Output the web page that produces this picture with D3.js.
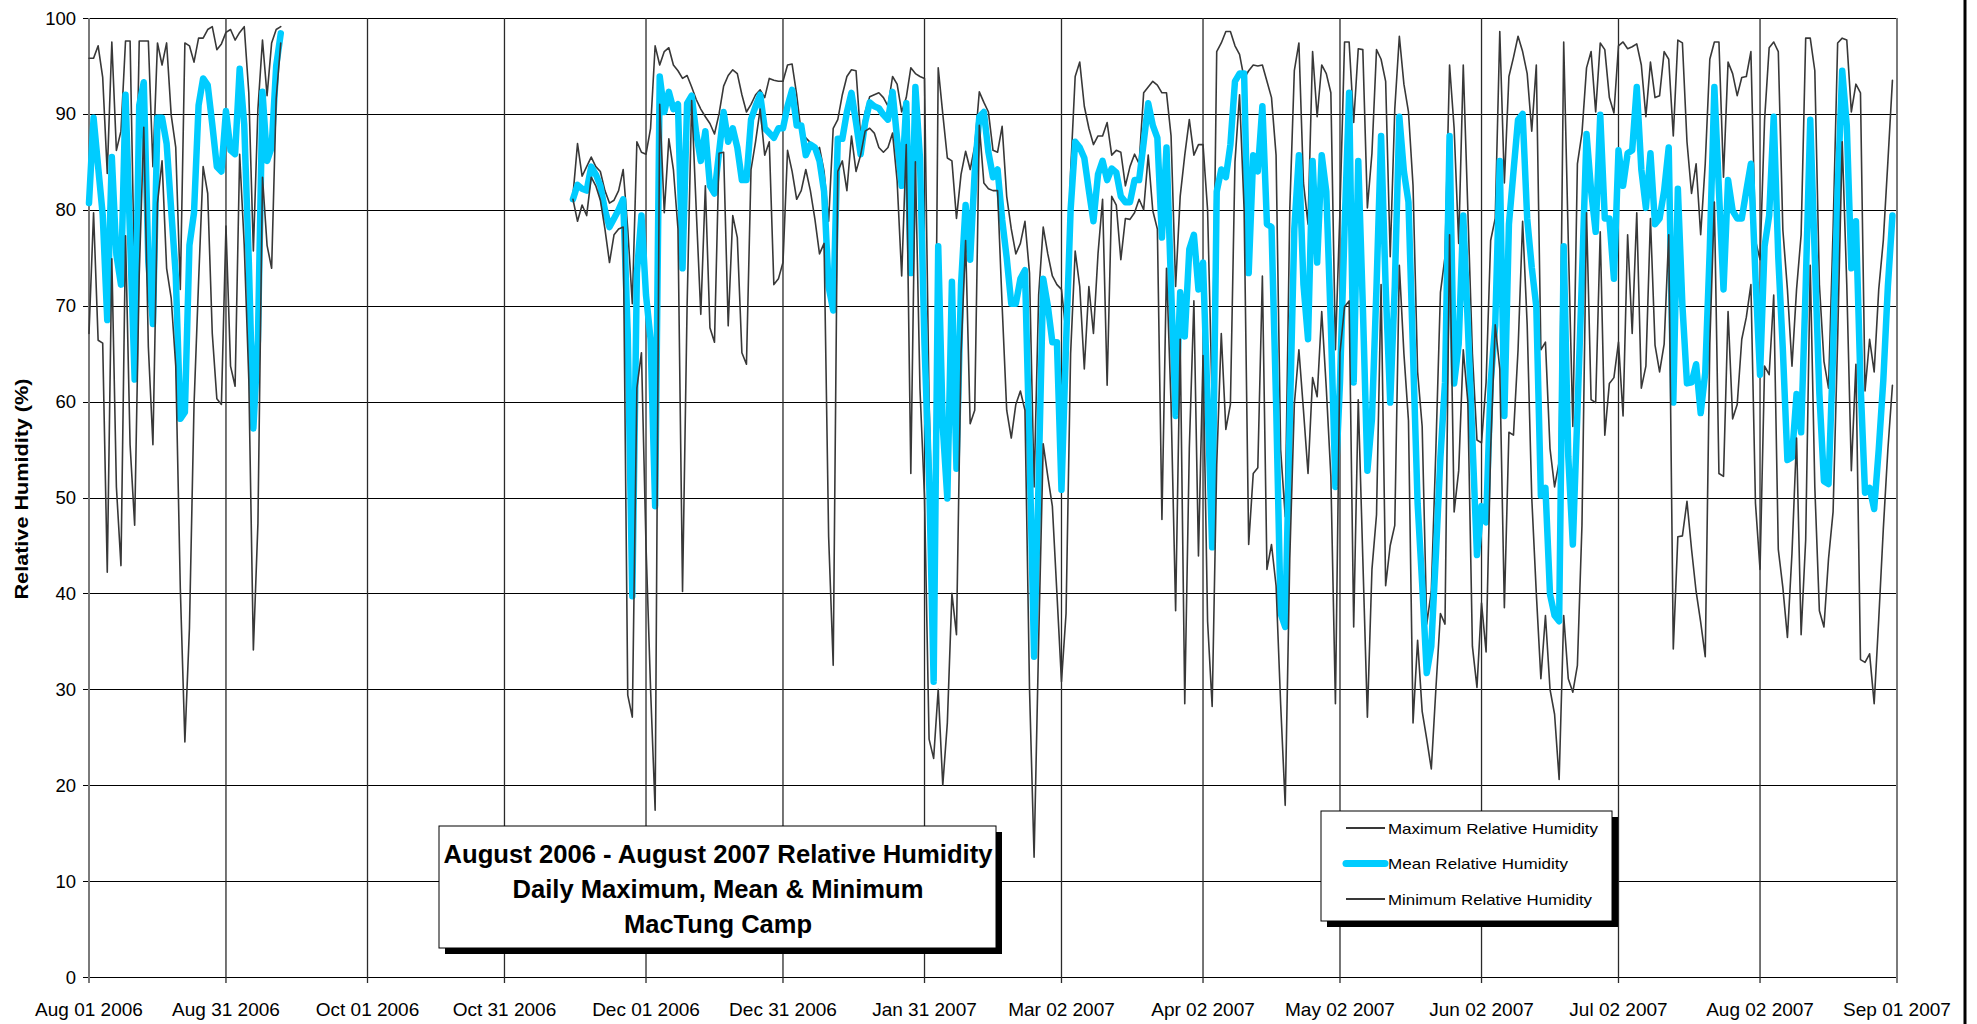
<!DOCTYPE html>
<html>
<head>
<meta charset="utf-8">
<script src="https://cdn.jsdelivr.net/npm/d3@7"></script>
<style>
  body { margin: 0; background: #fff; }
  svg { display: block; font-family: "Liberation Sans", Arial, sans-serif; }
</style>
</head>
<body>
<svg id="chart" width="1977" height="1024"></svg>
<script>
// daily values, two recording periods
const seg1Start = "2006-08-01";
const seg2Start = "2006-11-15";

const max1 = [95.8, 95.8, 97.1, 93.8, 83.8, 97.5, 86.2, 88.2, 97.6, 97.6, 72.0, 97.6, 97.6, 97.6, 84.5, 97.4, 95.1, 97.4, 89.9, 86.5,
  71.7, 97.4, 97.1, 95.4, 97.9, 97.9, 98.8, 99.1, 96.7, 97.3, 98.5, 98.8, 97.7, 98.5, 99.1, 92.2, 75.7, 90.5, 97.7, 91.9,
  97.4, 98.8, 99.1];
const mean1 = [80.7, 89.6, 84.5, 79.5, 68.5, 85.5, 75.3, 72.2, 92.0, 77.0, 62.3, 90.9, 93.3, 74.6, 68.1, 89.6, 89.6, 86.9, 80.0, 73.2,
  58.2, 58.9, 76.3, 79.7, 90.9, 93.7, 93.0, 88.9, 84.5, 84.0, 90.3, 86.2, 85.8, 94.7, 88.9, 74.6, 57.2, 66.4, 92.3, 85.1,
  86.5, 95.0, 98.4];
const min1 = [67.1, 79.7, 66.4, 66.1, 42.2, 74.9, 51.1, 42.9, 77.3, 55.5, 47.1, 73.2, 88.6, 65.7, 55.5, 80.7, 85.1, 73.9, 70.8, 63.7,
  40.5, 24.5, 36.4, 59.6, 72.5, 84.5, 81.7, 67.1, 60.3, 59.7, 78.3, 63.7, 61.6, 85.8, 76.3, 62.3, 34.1, 47.3, 83.4, 76.3,
  73.9, 91.6, 97.4];

const max2 = [
  81.5, 86.9, 83.5, 84.5, 85.5, 84.5, 84.0, 82.0, 80.7, 81.0,
  82.0, 84.2, 78.0, 70.2, 87.1, 86.0, 85.8, 88.5, 97.1, 95.1,
  96.5, 96.9, 95.1, 94.5, 93.7, 94.0, 92.8, 91.5, 90.5, 89.7,
  89.0, 87.9, 90.0, 92.9, 94.0, 94.6, 94.2, 92.0, 90.2, 91.0,
  92.0, 92.5, 91.7, 93.7, 93.5, 93.4, 93.4, 95.1, 95.2, 92.0,
  88.0, 87.5, 87.0, 86.0, 86.5, 84.0, 78.8, 88.5, 89.4, 92.0,
  93.9, 94.6, 94.5, 87.7, 90.2, 91.8, 92.0, 92.2, 91.7, 90.8,
  93.9, 93.1, 90.2, 91.7, 94.8, 94.2, 93.9, 93.7, 60.0, 40.0,
  94.8, 90.0, 85.4, 85.1, 79.1, 83.7, 86.1, 84.2, 86.6, 92.3,
  91.2, 90.2, 86.2, 86.0, 88.7, 81.4, 78.0, 75.4, 76.5, 78.8,
  73.4, 51.1, 71.1, 78.2, 75.4, 73.1, 72.2, 71.7, 67.1, 84.0,
  93.9, 95.4, 90.8, 88.5, 86.8, 87.7, 87.7, 89.1, 85.7, 86.2,
  86.0, 82.5, 84.5, 85.8, 84.8, 92.2, 92.8, 93.4, 93.0, 92.2,
  92.2, 87.7, 72.0, 81.4, 85.7, 89.4, 85.7, 86.8, 86.8, 80.0,
  60.0, 96.5, 97.4, 98.6, 98.6, 97.1, 96.2, 93.7, 94.5, 95.1,
  95.0, 95.1, 93.4, 91.7, 85.7, 55.0, 48.0, 80.0, 94.5, 97.4,
  82.8, 78.5, 96.5, 89.7, 95.1, 94.2, 92.2, 65.4, 80.0, 97.5,
  97.5, 89.1, 96.8, 96.7, 80.2, 85.9, 96.7, 95.7, 93.4, 75.1,
  90.5, 98.1, 93.1, 90.2, 82.5, 63.1, 57.4, 36.8, 40.2, 55.0,
  71.4, 75.1, 95.1, 88.5, 76.5, 95.1, 80.0, 65.0, 56.0, 55.7,
  62.0, 76.8, 79.1, 98.6, 82.8, 93.9, 95.9, 98.1, 96.5, 94.2,
  88.2, 95.1, 65.4, 66.2, 55.1, 51.1, 53.7, 97.5, 76.8, 57.4,
  84.8, 88.0, 94.8, 96.5, 90.2, 97.4, 96.7, 91.7, 90.1, 97.1,
  97.5, 96.8, 97.0, 97.3, 95.1, 89.7, 95.4, 91.7, 91.9, 96.5,
  95.7, 87.7, 97.7, 97.4, 87.1, 81.7, 84.8, 77.4, 84.8, 95.7,
  97.5, 97.5, 83.4, 95.4, 94.2, 91.9, 93.8, 93.9, 96.5, 76.8,
  74.8, 89.4, 96.9, 97.5, 96.5, 77.9, 71.7, 63.7, 71.7, 77.4,
  97.9, 97.9, 94.5, 72.2, 64.2, 61.4, 77.9, 97.4, 97.9, 97.7,
  90.2, 93.1, 92.2, 61.1, 66.5, 63.1, 71.7, 76.8, 85.0, 93.5];
const mean2 = [
  81.1, 82.6, 82.2, 82.0, 84.5, 83.7, 82.5, 80.0, 78.2, 79.1,
  80.0, 81.1, 67.0, 39.7, 73.4, 79.4, 71.1, 66.5, 49.1, 93.9,
  90.2, 92.3, 90.5, 91.0, 73.9, 91.1, 91.9, 88.0, 85.1, 88.2,
  82.5, 81.7, 86.0, 90.2, 87.1, 88.5, 86.5, 83.1, 83.1, 89.4,
  90.8, 92.0, 88.5, 88.0, 87.5, 88.5, 88.5, 90.8, 92.5, 88.8,
  88.8, 85.7, 86.8, 86.5, 85.1, 81.9, 72.0, 69.5, 87.4, 87.4,
  90.2, 92.2, 89.1, 85.8, 89.1, 91.2, 90.8, 90.6, 89.9, 89.4,
  92.3, 87.4, 82.5, 91.1, 73.4, 92.8, 85.4, 65.9, 52.2, 30.8,
  76.2, 57.4, 49.9, 72.5, 53.0, 72.2, 80.5, 74.8, 84.0, 89.7,
  90.2, 86.0, 83.4, 84.2, 79.0, 75.0, 70.2, 70.2, 72.8, 73.7,
  55.0, 33.4, 52.0, 72.8, 70.0, 66.2, 66.2, 50.8, 66.0, 80.0,
  87.1, 86.5, 85.4, 82.0, 78.8, 83.7, 85.1, 83.1, 84.3, 83.9,
  81.4, 80.8, 80.8, 83.1, 83.1, 87.0, 91.1, 88.8, 87.5, 77.1,
  86.5, 72.0, 58.5, 71.4, 66.8, 75.9, 77.4, 71.7, 74.5, 60.0,
  44.8, 81.9, 84.2, 83.4, 86.8, 93.4, 94.2, 94.2, 73.4, 85.7,
  84.0, 90.8, 78.5, 78.2, 60.0, 37.9, 36.5, 58.0, 78.0, 85.7,
  72.2, 66.5, 85.1, 74.5, 85.7, 81.9, 68.0, 51.1, 62.0, 78.0,
  92.2, 62.0, 85.1, 70.0, 52.8, 58.2, 72.0, 87.7, 72.0, 59.9,
  72.0, 89.7, 84.0, 80.8, 65.0, 49.4, 41.0, 31.7, 34.5, 44.0,
  54.2, 62.0, 87.7, 61.9, 66.0, 79.4, 68.0, 56.0, 44.0, 49.1,
  47.4, 62.0, 68.0, 85.1, 58.5, 78.5, 84.0, 89.4, 90.0, 79.1,
  74.0, 69.9, 50.2, 51.0, 39.9, 37.7, 37.1, 76.2, 54.3, 45.1,
  58.8, 73.0, 87.9, 82.0, 77.7, 89.9, 79.1, 79.1, 72.8, 86.2,
  82.5, 85.9, 86.2, 92.8, 84.2, 80.2, 85.9, 78.5, 79.1, 82.0,
  86.5, 59.9, 82.2, 70.0, 61.9, 62.0, 63.9, 58.8, 63.0, 76.0,
  92.8, 82.0, 71.7, 83.1, 79.9, 79.1, 79.1, 82.0, 84.8, 73.0,
  62.8, 76.2, 79.4, 89.7, 75.0, 65.4, 53.9, 54.2, 60.8, 56.8,
  72.0, 89.4, 75.0, 60.8, 51.7, 51.4, 65.0, 82.0, 94.5, 88.8,
  73.9, 78.8, 62.0, 50.5, 51.0, 48.8, 55.0, 62.2, 72.0, 79.4];
const min2 = [
  81.1, 78.8, 80.5, 79.4, 83.4, 82.5, 81.0, 78.0, 74.5, 77.4,
  78.0, 78.2, 29.4, 27.1, 61.4, 65.1, 45.0, 30.0, 17.4, 91.0,
  79.7, 87.4, 84.2, 78.0, 40.2, 70.0, 91.4, 80.0, 69.1, 82.5,
  67.7, 66.2, 85.9, 86.0, 67.9, 79.4, 77.1, 65.1, 63.9, 84.2,
  87.1, 90.5, 85.7, 87.1, 72.2, 72.8, 74.5, 86.2, 84.0, 81.1,
  82.0, 84.2, 82.0, 79.0, 75.4, 76.5, 45.9, 32.5, 84.0, 85.1,
  82.0, 87.7, 84.0, 85.7, 88.2, 88.5, 88.0, 86.5, 86.0, 86.5,
  88.0, 83.0, 73.1, 86.8, 52.5, 85.0, 61.4, 50.0, 24.8, 22.8,
  30.0, 20.0, 26.5, 40.0, 35.7, 65.0, 76.8, 57.7, 59.1, 88.8,
  82.8, 82.2, 82.0, 82.0, 70.0, 59.1, 56.2, 59.7, 61.1, 59.1,
  30.0, 12.5, 35.0, 55.6, 52.2, 49.1, 40.0, 30.8, 37.9, 65.0,
  75.7, 72.0, 63.4, 72.0, 67.1, 75.4, 81.1, 61.7, 81.4, 80.5,
  74.8, 79.1, 79.0, 79.7, 81.1, 80.0, 85.7, 79.9, 78.0, 47.7,
  73.9, 59.7, 38.2, 66.5, 28.5, 55.1, 70.5, 43.9, 64.8, 37.1,
  28.2, 53.4, 67.1, 57.1, 59.7, 85.0, 92.0, 80.0, 45.1, 52.5,
  53.1, 73.1, 42.5, 45.1, 40.8, 28.5, 17.9, 43.6, 59.7, 65.4,
  59.1, 52.5, 62.5, 60.5, 69.4, 61.4, 52.2, 28.5, 65.1, 69.9,
  70.5, 36.5, 60.2, 43.6, 27.1, 42.5, 48.2, 72.2, 40.8, 45.0,
  47.1, 74.2, 65.0, 58.0, 26.5, 35.1, 27.7, 24.8, 21.7, 30.0,
  37.9, 36.8, 77.4, 48.5, 52.8, 65.4, 60.0, 34.5, 30.2, 39.0,
  33.9, 55.0, 68.0, 63.4, 38.5, 56.8, 56.5, 65.4, 78.8, 68.0,
  50.0, 40.0, 31.1, 37.7, 30.0, 27.4, 20.6, 37.7, 31.1, 29.7,
  32.5, 47.1, 79.7, 60.2, 59.9, 77.7, 56.5, 61.9, 62.5, 66.2,
  58.5, 77.4, 67.1, 79.7, 61.4, 63.7, 79.1, 65.9, 63.1, 66.0,
  77.4, 34.2, 45.9, 46.0, 49.6, 44.6, 40.2, 37.0, 33.4, 66.0,
  80.8, 52.5, 52.2, 69.4, 58.2, 59.7, 66.5, 68.8, 72.2, 49.4,
  42.5, 63.7, 62.8, 71.1, 44.6, 40.6, 35.4, 44.2, 56.2, 35.7,
  45.6, 74.2, 51.1, 38.2, 36.5, 43.6, 48.5, 66.5, 87.1, 72.2,
  52.8, 63.9, 33.1, 32.8, 33.7, 28.5, 37.3, 46.7, 55.0, 61.7];

const tickDates = ["2006-08-01", "2006-08-31", "2006-10-01", "2006-10-31", "2006-12-01", "2006-12-31", "2007-01-31",
  "2007-03-02", "2007-04-02", "2007-05-02", "2007-06-02", "2007-07-02", "2007-08-02", "2007-09-01"];
const yTicks = [0, 10, 20, 30, 40, 50, 60, 70, 80, 90, 100];
const seriesNames = ["Maximum Relative Humidity", "Mean Relative Humidity", "Minimum Relative Humidity"];
const titleLines = ["August 2006 - August 2007 Relative Humidity", "Daily Maximum, Mean & Minimum", "MacTung Camp"];

const parse = d3.utcParse("%Y-%m-%d");
const fmt = d3.utcFormat("%b %d %Y");

const plot = { left: 89, right: 1897, top: 18, bottom: 977 };
const darkLine = "#383838";
const meanColor = "#00ccff";

const x = d3.scaleUtc()
  .domain([parse(tickDates[0]), parse(tickDates[tickDates.length - 1])])
  .range([plot.left, plot.right]);
const y = d3.scaleLinear()
  .domain([0, 100])
  .range([plot.bottom, plot.top]);

const toPoints = (start, arr) => arr.map((v, i) => ({ date: d3.utcDay.offset(parse(start), i), v: v }));

const svg = d3.select("#chart");

// grid
svg.append("g")
  .selectAll("line")
  .data(yTicks)
  .join("line")
    .attr("x1", plot.left - 6)
    .attr("x2", plot.right)
    .attr("y1", d => Math.round(y(d)) + 0.5)
    .attr("y2", d => Math.round(y(d)) + 0.5)
    .attr("stroke", "#000")
    .attr("stroke-width", 1.2);

svg.append("g")
  .selectAll("line")
  .data(tickDates.map(parse))
  .join("line")
    .attr("x1", d => x(d))
    .attr("x2", d => x(d))
    .attr("y1", plot.top)
    .attr("y2", plot.bottom + 6)
    .attr("stroke", (d, i) => (i === 0 || i === tickDates.length - 1) ? "#7a7a7a" : "#2a2a2a")
    .attr("stroke-width", (d, i) => (i === 0 || i === tickDates.length - 1) ? 2 : 1.3);

// axis labels
svg.append("g")
  .selectAll("text")
  .data(yTicks)
  .join("text")
    .attr("x", 76)
    .attr("y", d => y(d) + 6.5)
    .attr("text-anchor", "end")
    .attr("font-size", 18.5)
    .attr("fill", "#000")
    .text(d => d);

svg.append("g")
  .selectAll("text")
  .data(tickDates.map(parse))
  .join("text")
    .attr("x", d => x(d))
    .attr("y", 1016)
    .attr("text-anchor", "middle")
    .attr("font-size", 19)
    .attr("fill", "#000")
    .text(d => fmt(d));

svg.append("text")
  .attr("transform", "translate(28," + 489 + ") rotate(-90)")
  .attr("text-anchor", "middle")
  .attr("font-size", 18)
  .attr("font-weight", "bold")
  .attr("textLength", 221)
  .attr("lengthAdjust", "spacingAndGlyphs")
  .text("Relative Humidity (%)");

// chart area border on the right
svg.append("line")
  .attr("x1", 1965).attr("x2", 1965)
  .attr("y1", 0).attr("y2", 1024)
  .attr("stroke", "#000")
  .attr("stroke-width", 3);

// series lines: Max, Mean, Min (Excel draw order)
const line = d3.line()
  .x(d => x(d.date))
  .y(d => y(d.v));

const series = [
  { name: seriesNames[0], segs: [toPoints(seg1Start, max1), toPoints(seg2Start, max2)], color: darkLine, width: 1.6 },
  { name: seriesNames[1], segs: [toPoints(seg1Start, mean1), toPoints(seg2Start, mean2)], color: meanColor, width: 6.5 },
  { name: seriesNames[2], segs: [toPoints(seg1Start, min1), toPoints(seg2Start, min2)], color: darkLine, width: 1.6 }
];

series.forEach(s => {
  svg.append("g")
    .selectAll("path")
    .data(s.segs)
    .join("path")
      .attr("d", line)
      .attr("fill", "none")
      .attr("stroke", s.color)
      .attr("stroke-width", s.width)
      .attr("stroke-linejoin", "round")
      .attr("stroke-linecap", "round");
});

// title box
const tb = { x: 439, y: 826, w: 557, h: 122 };
svg.append("rect")
  .attr("x", tb.x + 6).attr("y", tb.y + 6)
  .attr("width", tb.w).attr("height", tb.h)
  .attr("fill", "#000");
svg.append("rect")
  .attr("x", tb.x).attr("y", tb.y)
  .attr("width", tb.w).attr("height", tb.h)
  .attr("fill", "#fff")
  .attr("stroke", "#000")
  .attr("stroke-width", 1);
const titleWidths = [549, 411, 188];
svg.append("g")
  .selectAll("text")
  .data(titleLines)
  .join("text")
    .attr("x", 718)
    .attr("y", (d, i) => 863 + i * 35)
    .attr("text-anchor", "middle")
    .attr("font-size", 25)
    .attr("font-weight", "bold")
    .attr("textLength", (d, i) => titleWidths[i])
    .attr("lengthAdjust", "spacingAndGlyphs")
    .text(d => d);

// legend
const lg = { x: 1321, y: 811, w: 291, h: 110 };
svg.append("rect")
  .attr("x", lg.x + 6).attr("y", lg.y + 6)
  .attr("width", lg.w).attr("height", lg.h)
  .attr("fill", "#000");
svg.append("rect")
  .attr("x", lg.x).attr("y", lg.y)
  .attr("width", lg.w).attr("height", lg.h)
  .attr("fill", "#fff")
  .attr("stroke", "#000")
  .attr("stroke-width", 1);
const legendWidths = [210, 180, 204];
const rows = svg.append("g")
  .selectAll("g")
  .data(series)
  .join("g")
    .attr("transform", (d, i) => "translate(0," + (828 + i * 35.5) + ")");
rows.append("line")
  .attr("x1", 1346).attr("x2", 1385)
  .attr("stroke", d => d.color)
  .attr("stroke-width", d => d.color === meanColor ? 7 : 2)
  .attr("stroke-linecap", d => d.color === meanColor ? "round" : "butt");
rows.append("text")
  .attr("x", 1388)
  .attr("y", 5.5)
  .attr("font-size", 15)
  .attr("textLength", (d, i) => legendWidths[i])
  .attr("lengthAdjust", "spacingAndGlyphs")
  .text(d => d.name);
</script>
</body>
</html>
